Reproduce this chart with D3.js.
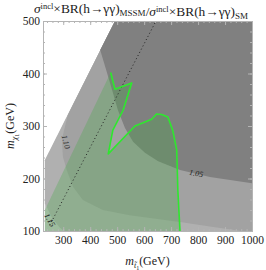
<!DOCTYPE html>
<html lang="en">
<head>
<meta charset="UTF-8">
<title>Ratio plot</title>
<style>
  body { margin: 0; background: #fff; }
  svg text { font-family: "Liberation Serif", "DejaVu Serif", serif; }
  .axis path, .axis line { stroke: #b4b4b4; }
  .axis text { font-size: 11.5px; fill: #222; }
</style>
</head>
<body>
<svg id="chart" width="266" height="270"></svg>
<script src="https://cdnjs.cloudflare.com/ajax/libs/d3/7.9.0/d3.min.js"></script>
<script>
// tick labels
const xTicks = [300, 400, 500, 600, 700, 800, 900, 1000];
const yTicks = [100, 200, 300, 400, 500];

// allowed region edge (white / gray boundary), points in (m_stop, m_chi)
const edgePts = [[232, 100], [232, 235], [492, 500]];

// contour lines of the ratio
const c105 = [[437, 445], [459, 407], [481, 369], [503, 330], [529, 296], [559, 270],
              [603, 249], [652, 233], [733, 216], [844, 203], [1000, 191]];
const c110 = [[317, 321], [299, 283], [296, 264], [299, 241], [313, 216], [337, 184],
              [373, 159], [447, 140], [547, 130], [733, 117], [850, 108], [960, 100]];
const c115 = [[232, 153], [259, 125], [288, 106], [303, 100]];

// green excluded region: lower left edge + bright limit curve
const greenEdge = [[232, 100], [232, 140], [476, 402]];
const limitCurve = [[476, 402], [492, 370], [554, 382], [522, 330], [484, 292], [467, 247],
                    [566, 300], [596, 306], [628, 313], [646, 323], [665, 322], [688, 317],
                    [706, 292], [721, 254], [725, 178], [733, 100]];

// dotted line
const dotLine = [[250, 111], [644, 500]];

// contour labels
const labels = [
  { text: "1.05", x: 793, y: 210, rot: 10 },
  { text: "1.10", x: 310, y: 270, rot: 75 },
  { text: "1.15", x: 251, y: 121, rot: 60 }
];

const margin = { left: 43, right: 252, top: 21, bottom: 231 };
const svg = d3.select("#chart");

const x = d3.scaleLinear().domain([225, 1000]).range([margin.left, margin.right]);
const y = d3.scaleLinear().domain([100, 500]).range([margin.bottom, margin.top]);

const line = d3.line().x(d => x(d[0])).y(d => y(d[1]));

svg.append("clipPath").attr("id", "clip")
  .append("rect")
  .attr("x", margin.left).attr("y", margin.top)
  .attr("width", margin.right - margin.left).attr("height", margin.bottom - margin.top);

const plot = svg.append("g").attr("clip-path", "url(#clip)");

const [xMin, xMax] = x.domain();
const [yMin, yMax] = y.domain();

// region polygons
const apex = edgePts[2];
const allowed = edgePts.concat([[xMax, yMax], [xMax, yMin]]);
const top115 = [c115[0], edgePts[1], apex, [xMax, yMax], [xMax, yMin]].concat(c115.slice().reverse());
const top110 = [c110[0], apex, [xMax, yMax], [xMax, yMin]].concat(c110.slice().reverse());
const top105 = [c105[0], apex, [xMax, yMax]].concat(c105.slice().reverse());

plot.append("path").attr("d", line(allowed) + "Z").attr("fill", "#c4c4c4");
plot.append("path").attr("d", line(top115) + "Z").attr("fill", "#b0b0b0");
plot.append("path").attr("d", line(top110) + "Z").attr("fill", "#a2a2a2");
plot.append("path").attr("d", line(top105) + "Z").attr("fill", "#808080");

// green region
const greenPoly = greenEdge.concat(limitCurve.slice(1));
plot.append("path").attr("d", line(greenPoly) + "Z")
  .attr("fill", "rgb(70,170,70)").attr("fill-opacity", 0.3);

// dotted line
plot.append("path").attr("d", line(dotLine))
  .attr("fill", "none").attr("stroke", "#222")
  .attr("stroke-width", 1).attr("stroke-dasharray", "1,2.6");

// bright limit curve
plot.append("path").attr("d", line(limitCurve))
  .attr("fill", "none").attr("stroke", "#2ee82e")
  .attr("stroke-width", 1.6).attr("stroke-linejoin", "round");

// contour labels
plot.selectAll(".clab").data(labels).enter().append("text")
  .attr("class", "clab")
  .attr("transform", d => `translate(${x(d.x)},${y(d.y)}) rotate(${d.rot})`)
  .attr("text-anchor", "middle").attr("dy", "0.35em")
  .style("font-size", "8px").style("font-style", "italic").attr("fill", "#222")
  .text(d => d.text);

// axes (frame with inward ticks)
const minorX = d3.range(240, 1001, 20);
const minorY = d3.range(100, 501, 20);

function frameAxis(axis, tr, labelsOn) {
  const g = svg.append("g").attr("class", "axis").attr("transform", tr).call(axis);
  if (!labelsOn) g.selectAll("text").remove();
  return g;
}

frameAxis(d3.axisBottom(x).tickValues(minorX).tickSize(-2).tickFormat(""), `translate(0,${margin.bottom})`, false);
frameAxis(d3.axisTop(x).tickValues(minorX).tickSize(-2).tickFormat(""), `translate(0,${margin.top})`, false);
frameAxis(d3.axisLeft(y).tickValues(minorY).tickSize(-2).tickFormat(""), `translate(${margin.left},0)`, false);
frameAxis(d3.axisRight(y).tickValues(minorY).tickSize(-2).tickFormat(""), `translate(${margin.right},0)`, false);

frameAxis(d3.axisBottom(x).tickValues(xTicks).tickFormat(d3.format("d")).tickSizeInner(-4).tickSizeOuter(0).tickPadding(5),
  `translate(0,${margin.bottom})`, true);
frameAxis(d3.axisTop(x).tickValues(xTicks).tickSizeInner(-4).tickSizeOuter(0), `translate(0,${margin.top})`, false);
frameAxis(d3.axisLeft(y).tickValues(yTicks).tickFormat(d3.format("d")).tickSizeInner(-4).tickSizeOuter(0).tickPadding(3),
  `translate(${margin.left},0)`, true);
frameAxis(d3.axisRight(y).tickValues(yTicks).tickSizeInner(-4).tickSizeOuter(0), `translate(${margin.right},0)`, false);

// axis titles
const xt = svg.append("text")
  .attr("x", (margin.left + margin.right) / 2).attr("y", 265)
  .attr("text-anchor", "middle").style("font-size", "12px").attr("fill", "#222");
xt.append("tspan").style("font-style", "italic").text("m");
xt.append("tspan").attr("dy", 3).style("font-size", "8px").style("font-style", "italic").text("t\u0303");
xt.append("tspan").attr("dy", 2).style("font-size", "6px").text("1");
xt.append("tspan").attr("dy", -5).text("(GeV)");

const yt = svg.append("text")
  .attr("transform", `translate(14,${(margin.top + margin.bottom) / 2}) rotate(-90)`)
  .attr("text-anchor", "middle").style("font-size", "12px").attr("fill", "#222");
yt.append("tspan").style("font-style", "italic").text("m");
yt.append("tspan").attr("dy", 3).style("font-size", "8px").style("font-style", "italic").text("\u03c7");
yt.append("tspan").attr("dy", 2).style("font-size", "6px").text("1");
yt.append("tspan").attr("dy", -5).text("(GeV)");

// title
const tt = svg.append("text")
  .attr("x", 141).attr("y", 13)
  .attr("text-anchor", "middle").style("font-size", "13.4px").attr("fill", "#222");
function ratioPart(sub) {
  tt.append("tspan").style("font-style", "italic").text("\u03c3");
  tt.append("tspan").attr("dy", -4).style("font-size", "8.5px").text("incl");
  tt.append("tspan").attr("dy", 4).text("\u00d7BR(h\u2192\u03b3\u03b3)");
  tt.append("tspan").attr("dy", 3).style("font-size", "9px").text(sub);
  tt.append("tspan").attr("dy", -3).text("");
}
ratioPart("MSSM");
tt.append("tspan").text("/");
ratioPart("SM");
</script>
</body>
</html>
